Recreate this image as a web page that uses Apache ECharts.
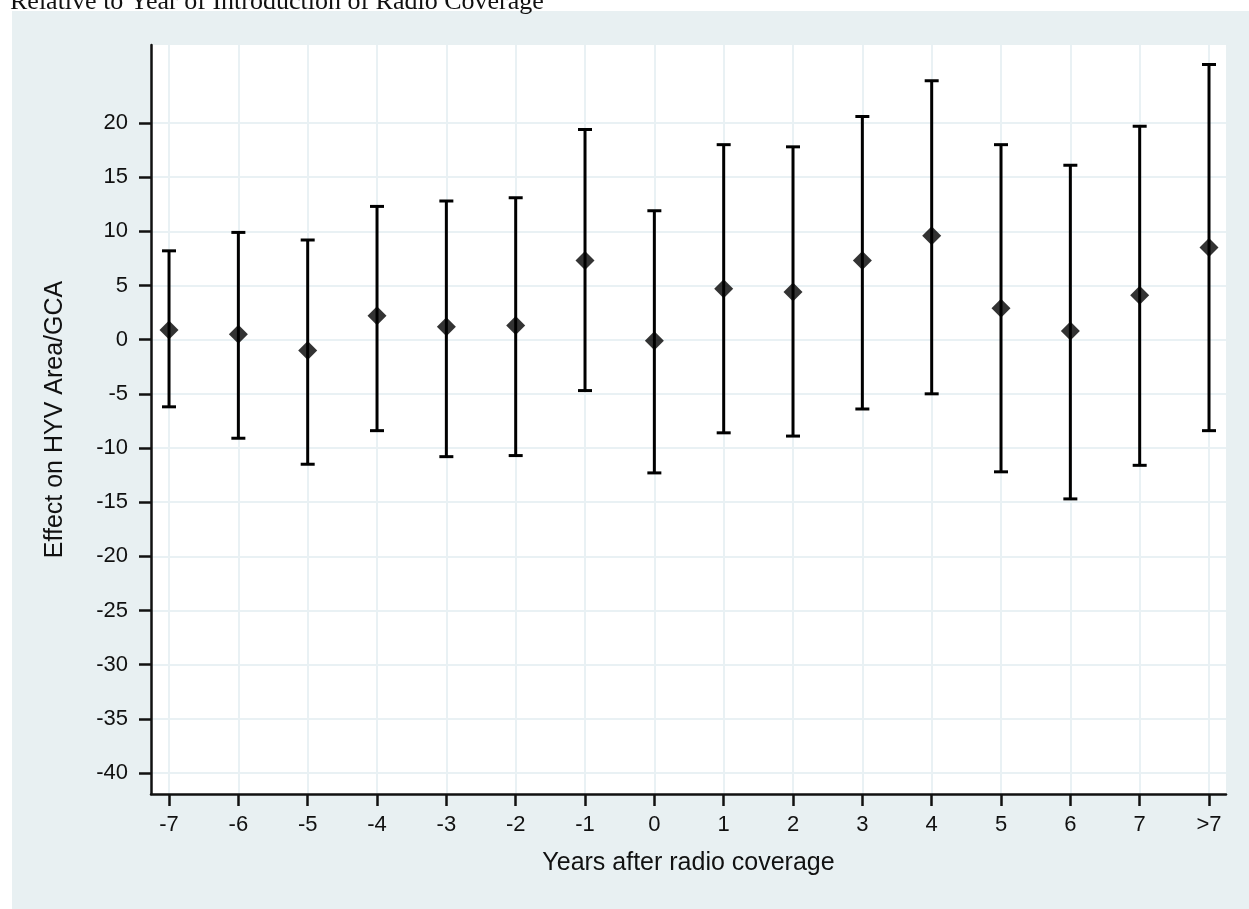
<!DOCTYPE html>
<html>
<head>
<meta charset="utf-8">
<script src="https://cdn.jsdelivr.net/npm/echarts@6/dist/echarts.min.js"></script>
<style>
html,body{margin:0;padding:0;background:#fff;}
#chart{width:1249px;height:909px;}
</style>
</head>
<body>
<div id="chart"></div>
<script>
// Event-time positions (8 stands for ">7")
var years = [-7, -6, -5, -4, -3, -2, -1, 0, 1, 2, 3, 4, 5, 6, 7, 8];
var yearLabels = ['-7', '-6', '-5', '-4', '-3', '-2', '-1', '0', '1', '2', '3', '4', '5', '6', '7', '>7'];
var estimates = [0.9, 0.5, -1.0, 2.2, 1.2, 1.3, 7.3, -0.1, 4.7, 4.4, 7.3, 9.6, 2.9, 0.8, 4.1, 8.5];
var upper = [8.2, 9.9, 9.2, 12.3, 12.8, 13.1, 19.4, 11.9, 18.0, 17.8, 20.6, 23.9, 18.0, 16.1, 19.7, 25.4];
var lower = [-6.2, -9.1, -11.5, -8.4, -10.8, -10.7, -4.7, -12.3, -8.6, -8.9, -6.4, -5.0, -12.2, -14.7, -11.6, -8.4];
var yTicks = [-40, -35, -30, -25, -20, -15, -10, -5, 0, 5, 10, 15, 20];

var titleText = 'Relative to Year of Introduction of Radio Coverage';
var xTitle = 'Years after radio coverage';
var yTitle = 'Effect on HYV Area/GCA';

var chart = echarts.init(document.getElementById('chart'));

var pointData = years.map(function (x, i) { return [x, estimates[i]]; });
var barData = years.map(function (x, i) { return [x, lower[i], upper[i]]; });

var labelMap = {};
years.forEach(function (x, i) { labelMap[x] = yearLabels[i]; });

var option = {
  animation: false,
  backgroundColor: '#ffffff',
  graphic: [
    { type: 'rect', z: -10, shape: { x: 12, y: 11, width: 1237, height: 898 }, style: { fill: '#e8f0f2' } },
    { type: 'text', z: 10, style: { x: 10, y: 15, text: titleText, font: '26px "Liberation Serif"', fill: '#111', verticalAlign: 'bottom' } }
  ],
  grid: {
    left: 151, top: 45, right: 23, bottom: 115,
    show: true, backgroundColor: '#ffffff', borderWidth: 0
  },
  xAxis: {
    type: 'value',
    min: -7.26, max: 8.245,
    name: xTitle,
    nameLocation: 'middle',
    nameGap: 57,
    nameTextStyle: { fontFamily: 'Liberation Sans', fontSize: 25, color: '#111' },
    axisLine: { show: true, onZero: false, lineStyle: { color: '#111', width: 2.5 } },
    axisTick: { show: true, length: 12, lineStyle: { color: '#111', width: 2.5 }, customValues: years },
    axisLabel: {
      customValues: years, margin: 20,
      fontFamily: 'Liberation Sans', fontSize: 22, color: '#111',
      formatter: function (v) { return labelMap[v] !== undefined ? labelMap[v] : ''; }
    },
    splitLine: { show: true, lineStyle: { color: '#e9f1f4', width: 2 } }
  },
  yAxis: {
    type: 'value',
    min: -41.94, max: 27.2,
    name: yTitle,
    nameLocation: 'middle',
    nameGap: 83,
    nameRotate: 90,
    nameTextStyle: { fontFamily: 'Liberation Sans', fontSize: 25, color: '#111' },
    axisLine: { show: true, onZero: false, lineStyle: { color: '#111', width: 2.5 } },
    axisTick: { show: true, length: 12, lineStyle: { color: '#111', width: 2.5 }, customValues: yTicks },
    axisLabel: {
      customValues: yTicks, margin: 23,
      fontFamily: 'Liberation Sans', fontSize: 22, color: '#111'
    },
    splitLine: { show: true, lineStyle: { color: '#e9f1f4', width: 2 } }
  },
  series: [
    {
      type: 'custom',
      data: barData,
      encode: { x: 0, y: [1, 2] },
      renderItem: function (params, api) {
        var x = api.value(0);
        var lo = api.coord([x, api.value(1)]);
        var hi = api.coord([x, api.value(2)]);
        var half = 7;
        var style = { stroke: '#000', lineWidth: 3, fill: null };
        return {
          type: 'group',
          children: [
            { type: 'line', shape: { x1: hi[0], y1: hi[1], x2: lo[0], y2: lo[1] }, style: style },
            { type: 'line', shape: { x1: hi[0] - half, y1: hi[1], x2: hi[0] + half, y2: hi[1] }, style: style },
            { type: 'line', shape: { x1: lo[0] - half, y1: lo[1], x2: lo[0] + half, y2: lo[1] }, style: style }
          ]
        };
      },
      z: 2
    },
    {
      type: 'scatter',
      data: pointData,
      symbol: 'diamond',
      symbolSize: [19, 19],
      itemStyle: { color: '#000' },
      z: 3
    }
  ]
};
chart.setOption(option);
</script>
</body>
</html>
